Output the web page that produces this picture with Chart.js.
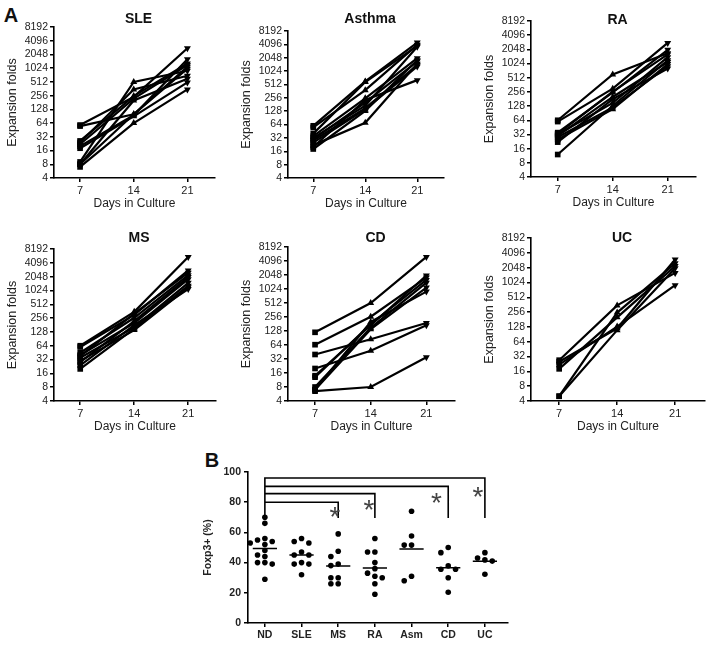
<!DOCTYPE html>
<html>
<head>
<meta charset="utf-8">
<script src="https://cdn.jsdelivr.net/npm/chart.js@4.4.1/dist/chart.umd.min.js"></script>
<style>
    body { margin: 0; background: #fff; width: 714px; height: 645px; position: relative; overflow: hidden; font-family: "Liberation Sans", Arial, sans-serif; color: #111; }
    canvas { position: absolute; }
    .lbl { position: absolute; font-weight: bold; transform: translate(-50%, -50%); white-space: nowrap; }
</style>
</head>
<body>
<div class="lbl" style="left:11px;top:15px;font-size:20px">A</div>
<div class="lbl" style="left:212px;top:460px;font-size:20px">B</div>
<div id="root"></div>
<script>
// days in culture and y tick labels (log2)
var days = [7, 14, 21]
var foldTicks = [4, 8, 16, 32, 64, 128, 256, 512, 1024, 2048, 4096, 8192]

// expansion folds per donor, values at day 7 / 14 / 21
var sleSeries = [[58, 240, 2800], [55, 100, 1000], [24, 350, 700], [22, 220, 1200], [20, 95, 1600], [9, 512, 900], [8, 200, 600], [8, 100, 1100], [7, 64, 350], [18, 90, 500], [26, 250, 1300]]
var asthmaSeries = [[60, 600, 4500], [55, 380, 4000], [40, 580, 3800], [35, 250, 2000], [30, 200, 1700], [28, 150, 1400], [25, 140, 1300], [22, 70, 1500], [20, 230, 640], [18, 130, 1800], [32, 170, 3600]]
var raSeries = [[64, 600, 1700], [60, 300, 2800], [35, 250, 2000], [32, 150, 1400], [30, 200, 1100], [28, 120, 900], [25, 110, 1000], [22, 180, 800], [12, 130, 1200], [33, 260, 1600]]
var msSeries = [[64, 350, 5500], [60, 300, 2800], [45, 260, 2200], [40, 200, 1800], [35, 160, 1500], [30, 140, 1200], [28, 220, 2000], [24, 180, 1100], [20, 150, 1300], [38, 320, 2500]]
var cdSeries = [[120, 512, 5000], [65, 260, 1800], [40, 85, 190], [20, 48, 170], [14, 170, 2000], [8, 150, 1400], [7, 140, 1100], [6.5, 8, 35], [7, 200, 900], [13, 180, 1600]]
var ucSeries = [[27, 350, 1600], [25, 120, 3000], [18, 200, 2200], [5, 110, 2000], [22, 130, 900], [5, 250, 2500]]

// panel B: Foxp3+ (%)
var groups = ['ND', 'SLE', 'MS', 'RA', 'Asm', 'CD', 'UC']
var ndFoxp3 = [70, 66, 56, 55, 54, 53, 52, 48, 45, 44, 40, 40, 39, 29]
var sleFoxp3 = [56, 54, 53, 47, 45, 45, 40, 39, 39, 32]
var msFoxp3 = [59, 47.5, 44, 39, 38, 30, 30, 26, 26]
var raFoxp3 = [56, 47, 47, 40, 36, 33, 31, 30, 26, 19]
var asmFoxp3 = [74, 57.6, 51.6, 51.6, 31, 28]
var cdFoxp3 = [50, 46.6, 37.8, 35.6, 35.6, 30, 20.4]
var ucFoxp3 = [46.6, 43, 41.8, 41, 32.3]
var foxp3 = [ndFoxp3, sleFoxp3, msFoxp3, raFoxp3, asmFoxp3, cdFoxp3, ucFoxp3]

// significance vs ND: target group index, bracket height, asterisk position
var sigTarget = [2, 3, 5, 6]
var sigHeight = [80, 85.7, 90.5, 96]
var starX = [1.91, 2.84, 4.68, 5.81]
var starY = [73, 78, 82.4, 86.8]

var FONT = '"Liberation Sans", Arial, sans-serif'
Chart.defaults.font.family = FONT
Chart.defaults.color = '#222'

var root = document.getElementById('root')

function addCanvas(left, top, w, h) {
    var c = document.createElement('canvas')
    c.width = w; c.height = h
    c.style.left = left + 'px'; c.style.top = top + 'px'
    c.style.width = w + 'px'; c.style.height = h + 'px'
    root.appendChild(c)
    return c
}

function addTitle(text, x, y) {
    var d = document.createElement('div')
    d.className = 'lbl'
    d.style.left = x + 'px'; d.style.top = y + 'px'; d.style.fontSize = '14px'
    d.textContent = text
    root.appendChild(d)
}

// chart area of each growth panel: left, top, right, bottom
var panels = [
    { name: 'SLE', data: sleSeries, L: 54, T: 27, R: 217, B: 178, ty: 18 },
    { name: 'Asthma', data: asthmaSeries, L: 288, T: 31, R: 446, B: 178, ty: 18 },
    { name: 'RA', data: raSeries, L: 531, T: 21, R: 698, B: 177, ty: 19 },
    { name: 'MS', data: msSeries, L: 54, T: 249, R: 218, B: 401, ty: 237 },
    { name: 'CD', data: cdSeries, L: 288, T: 247, R: 457, B: 401, ty: 237 },
    { name: 'UC', data: ucSeries, L: 531, T: 238, R: 707, B: 401, ty: 237 }
]

var yW = 54, xH = 37, padTop = 10

panels.forEach(function (p) {
    var c = addCanvas(p.L - yW, p.T - padTop, p.R - p.L + yW + 2, p.B - p.T + padTop + xH)
    addTitle(p.name, (p.L + p.R) / 2 + 3, p.ty)

    var datasets = p.data.map(function (s) {
        return {
            data: s.map(function (v, i) { return { x: days[i], y: v } }),
            borderColor: '#000',
            backgroundColor: '#000',
            borderWidth: 2.2,
            pointStyle: ['rect', 'triangle', 'triangle'],
            pointRotation: [0, 0, 180],
            pointRadius: 4,
            pointBorderWidth: 0,
            tension: 0
        }
    })

    new Chart(c, {
        type: 'line',
        data: { datasets: datasets },
        options: {
            responsive: false,
            animation: false,
            layout: { padding: { top: padTop, right: 2, left: 0, bottom: 0 } },
            plugins: { legend: { display: false }, tooltip: { enabled: false } },
            scales: {
                x: {
                    type: 'linear', min: 3.6, max: 24.6,
                    afterBuildTicks: function (s) { s.ticks = days.map(function (v) { return { value: v } }) },
                    afterFit: function (s) { s.height = xH },
                    grid: { drawOnChartArea: false, tickLength: 4, color: '#000', lineWidth: 1.5 },
                    border: { color: '#000', width: 1.6 },
                    ticks: { font: { size: 11 }, padding: 2, maxRotation: 0 },
                    title: { display: true, text: 'Days in Culture', font: { size: 12 }, padding: { top: 0, bottom: 4 } }
                },
                y: {
                    type: 'logarithmic', min: 4, max: 8192,
                    afterBuildTicks: function (s) { s.ticks = foldTicks.map(function (v) { return { value: v } }) },
                    afterFit: function (s) { s.width = yW },
                    grid: { drawOnChartArea: false, tickLength: 4, color: '#000', lineWidth: 1.5 },
                    border: { color: '#000', width: 1.6 },
                    ticks: { font: { size: 10.5 }, padding: 2, autoSkip: false, callback: function (v) { return String(v) } },
                    title: { display: true, text: 'Expansion folds', font: { size: 12.5 }, padding: { top: 5, bottom: 0 } }
                }
            }
        }
    })
})

// ---- panel B ----
function swarm(vals) {
    var placed = []
    var cands = [0, -0.2, 0.2, -0.4, 0.4, -0.1, 0.1, -0.3, 0.3]
    return vals.map(function (v) {
        var dx = 0
        for (var k = 0; k < cands.length; k++) {
            var ok = placed.every(function (p) {
                var a = (p.dx - cands[k]) / 0.17, b = (p.v - v) / 4
                return a * a + b * b >= 1
            })
            if (ok) { dx = cands[k]; break }
        }
        placed.push({ dx: dx, v: v })
        return dx
    })
}

var dots = []
var means = []
foxp3.forEach(function (vals, i) {
    var off = swarm(vals)
    vals.forEach(function (v, j) { dots.push({ x: i + off[j], y: v }) })
    var m = vals.reduce(function (a, b) { return a + b }, 0) / vals.length
    means.push({ x: i - 0.33, y: m }, { x: i + 0.33, y: m }, { x: i + 0.5, y: null })
})

var brackets = []
sigTarget.forEach(function (t, k) {
    brackets.push({ x: 0, y: 71 }, { x: 0, y: sigHeight[k] }, { x: t, y: sigHeight[k] }, { x: t, y: 69.5 }, { x: t, y: null })
})

var starPlugin = {
    id: 'stars',
    afterDatasetsDraw: function (chart) {
        var ctx = chart.ctx, x = chart.scales.x, y = chart.scales.y
        ctx.save()
        ctx.fillStyle = '#444'
        ctx.font = '28px ' + FONT
        ctx.textAlign = 'center'
        ctx.textBaseline = 'middle'
        starX.forEach(function (sx, k) {
            ctx.fillText('*', x.getPixelForValue(sx), y.getPixelForValue(starY[k]) + 6)
        })
        ctx.restore()
    }
}

var bL = 248, bT = 472, bR = 508, bB = 623
var cb = addCanvas(bL - yW, bT - padTop, bR - bL + yW + 4, bB - bT + padTop + 22)

new Chart(cb, {
    type: 'scatter',
    data: {
        datasets: [
            { type: 'scatter', data: dots, backgroundColor: '#000', borderWidth: 0, pointRadius: 2.8 },
            { type: 'line', data: means, borderColor: '#000', borderWidth: 1.5, pointRadius: 0, spanGaps: false },
            { type: 'line', data: brackets, borderColor: '#000', borderWidth: 1.6, pointRadius: 0, spanGaps: false }
        ]
    },
    options: {
        responsive: false,
        animation: false,
        layout: { padding: { top: padTop, right: 4, left: 0, bottom: 0 } },
        plugins: { legend: { display: false }, tooltip: { enabled: false } },
        scales: {
            x: {
                type: 'linear', min: -0.46, max: 6.63,
                afterBuildTicks: function (s) { s.ticks = groups.map(function (g, i) { return { value: i } }) },
                afterFit: function (s) { s.height = 22 },
                grid: { drawOnChartArea: false, tickLength: 4, color: '#000', lineWidth: 1.5 },
                border: { color: '#000', width: 1.6 },
                ticks: { font: { size: 10.5, weight: 'bold' }, padding: 2, maxRotation: 0, autoSkip: false, callback: function (v) { return groups[v] } }
            },
            y: {
                min: 0, max: 100,
                ticks: { stepSize: 20, font: { size: 10.5, weight: 'bold' }, padding: 3 },
                afterFit: function (s) { s.width = yW },
                grid: { drawOnChartArea: false, tickLength: 4, color: '#000', lineWidth: 1.5 },
                border: { color: '#000', width: 1.6 },
                title: { display: true, text: 'Foxp3+ (%)', font: { size: 10.5, weight: 'bold' }, padding: { top: 8, bottom: 0 } }
            }
        }
    },
    plugins: [starPlugin]
})
</script>
</body>
</html>
